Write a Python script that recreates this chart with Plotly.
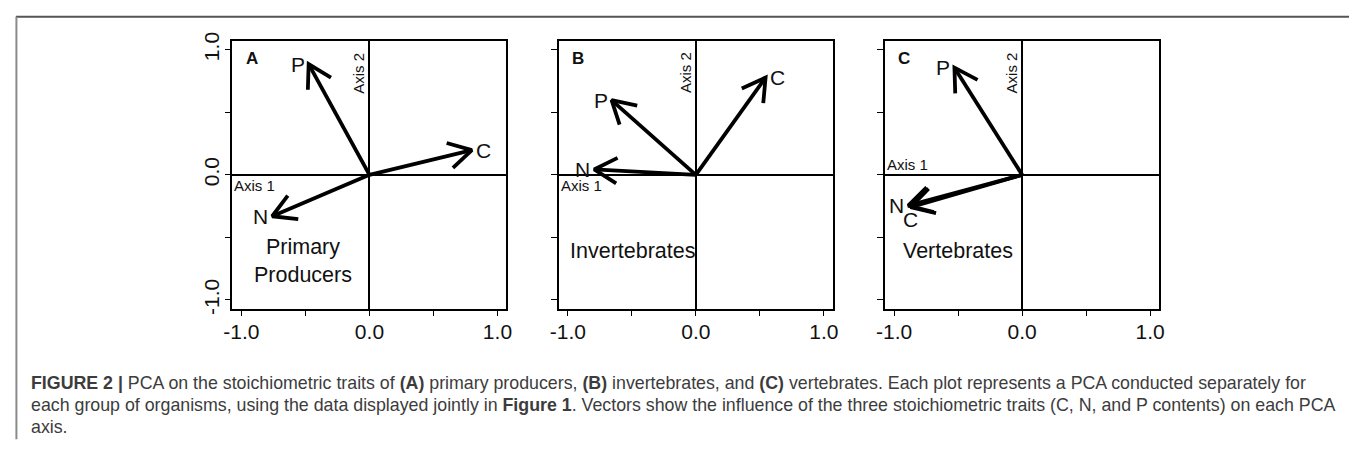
import math
import plotly.graph_objects as go

# ---------------- data ----------------
traits = ["C", "N", "P"]
panels = ["A", "B", "C"]
groups = ["Primary\nProducers", "Invertebrates", "Vertebrates"]

# PCA loadings (Axis 1, Axis 2) of each trait
pp_axis1 = [0.80, -0.76, -0.475]
pp_axis2 = [0.197, -0.331, 0.885]
inv_axis1 = [0.545, -0.794, -0.658]
inv_axis2 = [0.777, 0.043, 0.597]
vert_axis1 = [-0.872, -0.890, -0.529]
vert_axis2 = [-0.259, -0.246, 0.856]

# which side of the arrow tip each trait label sits on
label_side = [
    ["right", "left", "left"],
    ["right", "left", "left"],
    ["below", "left", "left"],
]

tick_vals = [-1.0, -0.5, 0.0, 0.5, 1.0]
tick_text = ["-1.0", "", "0.0", "", "1.0"]

caption_lines = [
    "<b>FIGURE 2 |</b> PCA on the stoichiometric traits of <b>(A)</b> primary producers, "
    "<b>(B)</b> invertebrates, and <b>(C)</b> vertebrates. Each plot represents a PCA conducted separately for",
    "each group of organisms, using the data displayed jointly in <b>Figure 1</b>. Vectors show "
    "the influence of the three stoichiometric traits (C, N, and P contents) on each PCA",
    "axis.",
]

# ---------------- layout geometry ----------------
W, H = 1355, 453
x_domains = [(226, 503), (556, 833), (886, 1163)]
y_domain = (33, 310)
RANGE = [-1.07, 1.07]
FONT = "Liberation Sans, Arial, sans-serif"

fig = go.Figure()

data_sets = [
    (pp_axis1, pp_axis2),
    (inv_axis1, inv_axis2),
    (vert_axis1, vert_axis2),
]

HEAD_LEN = 0.205
HEAD_ANG = math.radians(30)

annotations = []
for i, (ax1, ax2) in enumerate(data_sets):
    xa = "x" if i == 0 else f"x{i+1}"
    ya = "y" if i == 0 else f"y{i+1}"
    xs, ys = [], []
    for vx, vy in zip(ax1, ax2):
        th = math.atan2(vy, vx)
        xs += [0, vx, None]
        ys += [0, vy, None]
        b1x = vx - HEAD_LEN * math.cos(th + HEAD_ANG)
        b1y = vy - HEAD_LEN * math.sin(th + HEAD_ANG)
        b2x = vx - HEAD_LEN * math.cos(th - HEAD_ANG)
        b2y = vy - HEAD_LEN * math.sin(th - HEAD_ANG)
        xs += [b1x, vx, b2x, None]
        ys += [b1y, vy, b2y, None]
    fig.add_trace(go.Scatter(
        x=xs, y=ys, mode="lines", xaxis=xa, yaxis=ya,
        line=dict(color="black", width=3.8), hoverinfo="skip", showlegend=False,
    ))
    # trait labels
    for t, vx, vy, side in zip(traits, ax1, ax2, label_side[i]):
        a = dict(x=vx, y=vy, xref=xa, yref=ya, text=t, showarrow=False,
                 font=dict(family=FONT, size=21, color="#111"))
        if side == "left":
            a.update(xanchor="right", yanchor="middle", xshift=-2)
        elif side == "right":
            a.update(xanchor="left", yanchor="middle", xshift=2)
        else:
            a.update(xanchor="center", yanchor="top", yshift=1)
        annotations.append(a)
    # panel letter
    annotations.append(dict(x=0.07, y=0.935, xref=f"{xa} domain", yref=f"{ya} domain",
                            text=f"<b>{panels[i]}</b>", showarrow=False,
                            xanchor="center", yanchor="middle",
                            font=dict(family=FONT, size=17, color="#111")))
    # axis labels
    annotations.append(dict(x=0, y=0.995, xref=xa, yref=ya, text="Axis 2", textangle=-90,
                            showarrow=False, xanchor="right", yanchor="top",
                            font=dict(family=FONT, size=15, color="#111")))
    annotations.append(dict(x=0.0, y=0, xref=f"{xa} domain", yref=ya, text="Axis 1",
                            showarrow=False, xanchor="left",
                            yanchor=("bottom" if i == 2 else "top"),
                            font=dict(family=FONT, size=15, color="#111")))

group_pos = [(-0.52, -0.69), (-0.498, -0.607), (-0.498, -0.607)]
for i, g in enumerate(groups):
    xa = "x" if i == 0 else f"x{i+1}"
    ya = "y" if i == 0 else f"y{i+1}"
    annotations.append(dict(x=group_pos[i][0], y=group_pos[i][1], xref=xa, yref=ya,
                            text=g.replace("\n", "<br>"), showarrow=False,
                            xanchor="center", yanchor="middle",
                            font=dict(family=FONT, size=21.5, color="#111")))

# caption
cap_y = [386.5, 409.5, 432.5]
for line, py in zip(caption_lines, cap_y):
    annotations.append(dict(x=20 / W, y=1 - py / H, xref="paper", yref="paper",
                            text=line, showarrow=False, xanchor="left", yanchor="middle",
                            font=dict(family=FONT, size=17.8, color="#3c3c3c")))

layout = dict(
    width=W, height=H, margin=dict(l=0, r=0, t=0, b=0),
    paper_bgcolor="white", plot_bgcolor="white", showlegend=False,
    annotations=annotations,
    shapes=[
        dict(type="line", xref="paper", yref="paper", x0=7 / W, x1=1, y0=1 - 8 / H, y1=1 - 8 / H,
             line=dict(color="#555", width=2)),
        dict(type="line", xref="paper", yref="paper", x0=7.5 / W, x1=7.5 / W, y0=1 - 8 / H, y1=1 - 445 / H,
             line=dict(color="#8a8a8a", width=2)),
    ],
)

for i in range(3):
    sx = "" if i == 0 else str(i + 1)
    common = dict(
        range=RANGE, showgrid=False, showline=True, mirror=True,
        linecolor="black", linewidth=1.5,
        zeroline=True, zerolinecolor="black", zerolinewidth=1.5,
        ticks="outside", ticklen=6, tickwidth=1.2, tickcolor="black",
        tickvals=tick_vals, ticktext=tick_text,
        tickfont=dict(family=FONT, size=21, color="#111"),
        ticklabelstandoff=-3,
        fixedrange=True,
    )
    layout[f"xaxis{sx}"] = dict(common, domain=[x_domains[i][0] / W, x_domains[i][1] / W],
                                anchor=f"y{sx}")
    layout[f"yaxis{sx}"] = dict(common, domain=[1 - y_domain[1] / H, 1 - y_domain[0] / H],
                                anchor=f"x{sx}", tickangle=-90, showticklabels=(i == 0))

fig.update_layout(**layout)
fig.write_html(
    "out.html",
    config={"displayModeBar": False},
    post_script="document.body.style.margin='0';document.body.style.overflow='hidden';",
)
